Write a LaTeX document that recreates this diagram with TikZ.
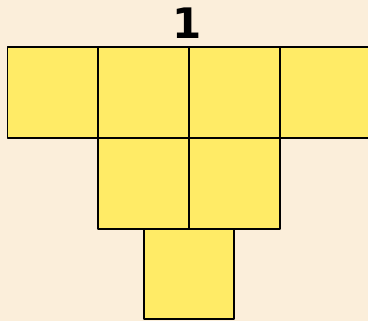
\documentclass[tikz,border=0pt]{standalone}
\usepackage{fontspec}
\usetikzlibrary{calc}
\newfontfamily\labelfont{DejaVu Sans}
\definecolor{cream}{HTML}{FBEEDA}
\definecolor{tile}{HTML}{FFEB66}

\begin{document}
\begin{tikzpicture}[x=1pt, y=-1pt, line join=round, line cap=round]
    \fill[cream] (0,0) rectangle (368,321);
    \useasboundingbox (0,0) rectangle (368,321);
    \coordinate (O) at (7.5,47);
    % top row, middle row, bottom square
    \foreach \c/\r in {0/0,1/0,2/0,3/0,1/1,2/1,1.5/2} {
      \draw[fill=tile, line width=2pt] ($(O)+(\c*90.8,\r*90.8)$) rectangle ++(90.8,90.8);
    }
    \node[font=\labelfont\bfseries\fontsize{42}{42}\selectfont, inner sep=0pt] (one) at (187,23) {1};
  \end{tikzpicture}
\end{document}
